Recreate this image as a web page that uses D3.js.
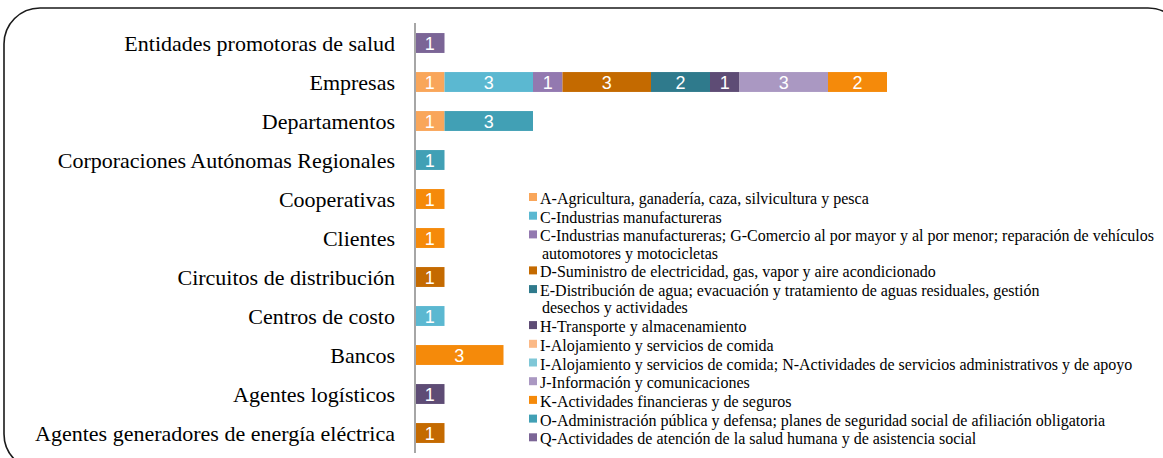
<!DOCTYPE html>
<html>
<head>
<meta charset="utf-8">
<script src="https://cdn.jsdelivr.net/npm/d3@7"></script>
<style>
  body { margin: 0; background: #fff; }
  svg { display: block; }
  .serif { font-family: "Liberation Serif", "Times New Roman", "DejaVu Serif", serif; }
  .sans { font-family: "Liberation Sans", Arial, sans-serif; }
</style>
</head>
<body>
<svg id="chart" width="1163" height="458"></svg>
<script>

// categories, top to bottom
const categories = [
  "Entidades promotoras de salud",
  "Empresas",
  "Departamentos",
  "Corporaciones Autónomas Regionales",
  "Cooperativas",
  "Clientes",
  "Circuitos de distribución",
  "Centros de costo",
  "Bancos",
  "Agentes logísticos",
  "Agentes generadores de energía eléctrica"
]

const seriesNames = [
  "A-Agricultura, ganadería, caza, silvicultura y pesca",
  "C-Industrias manufactureras",
  "C-Industrias manufactureras; G-Comercio al por mayor y al por menor; reparación de vehículos|automotores y motocicletas",
  "D-Suministro de electricidad, gas, vapor y aire acondicionado",
  "E-Distribución de agua; evacuación y tratamiento de aguas residuales, gestión|desechos y actividades",
  "H-Transporte y almacenamiento",
  "I-Alojamiento y servicios de comida",
  "I-Alojamiento y servicios de comida; N-Actividades de servicios administrativos y de apoyo",
  "J-Información y comunicaciones",
  "K-Actividades financieras y de seguros",
  "O-Administración pública y defensa; planes de seguridad social de afiliación obligatoria",
  "Q-Actividades de atención de la salud humana y de asistencia social"
]

const seriesColors = [
  "#f9a65a", "#5bb8d1", "#9379b0", "#c46a00", "#2f7a8c", "#5e4c75",
  "#fbb987", "#7fc7d7", "#aa98c2", "#f58a0a", "#41a0b5", "#7b6596"
]

// values per series, one entry per category (same order as categories)
const sA  = [0, 1, 1, 0, 0, 0, 0, 0, 0, 0, 0]
const sC  = [0, 3, 0, 0, 0, 0, 0, 1, 0, 0, 0]
const sCG = [0, 1, 0, 0, 0, 0, 0, 0, 0, 0, 0]
const sD  = [0, 3, 0, 0, 0, 0, 1, 0, 0, 0, 1]
const sE  = [0, 2, 0, 0, 0, 0, 0, 0, 0, 0, 0]
const sH  = [0, 1, 0, 0, 0, 0, 0, 0, 0, 1, 0]
const sI  = [0, 0, 0, 0, 0, 0, 0, 0, 0, 0, 0]
const sIN = [0, 0, 0, 0, 0, 0, 0, 0, 0, 0, 0]
const sJ  = [0, 3, 0, 0, 0, 0, 0, 0, 0, 0, 0]
const sK  = [0, 2, 0, 0, 1, 1, 0, 0, 3, 0, 0]
const sO  = [0, 0, 3, 1, 0, 0, 0, 0, 0, 0, 0]
const sQ  = [1, 0, 0, 0, 0, 0, 0, 0, 0, 0, 0]

const seriesValues = [sA, sC, sCG, sD, sE, sH, sI, sIN, sJ, sK, sO, sQ]

const svg = d3.select("#chart")

// rounded frame
svg.append("rect")
   .attr("x", 4)
   .attr("y", 8)
   .attr("width", 1180)
   .attr("height", 462)
   .attr("rx", 36)
   .attr("ry", 36)
   .attr("fill", "none")
   .attr("stroke", "#1a1a1a")
   .attr("stroke-width", 1.6)

const x0 = 415
const xScale = d3.scaleLinear()
                 .domain([0, 16])
                 .range([x0, x0 + 16 * 29.5])

const yScale = d3.scaleBand()
                 .domain(categories)
                 .range([23.5, 452.5])
                 .paddingInner(0.49)
                 .paddingOuter(0.245)

// build table for stack
const table = categories.map((c, i) => {
  let row = { cat: c }
  seriesValues.forEach((s, k) => { row["s" + k] = s[i] })
  return row
})

const stack = d3.stack().keys(seriesValues.map((s, k) => "s" + k))
const stacked = stack(table)

const gBars = svg.append("g")

stacked.forEach((layer, k) => {
  const segs = layer.filter(d => d[1] - d[0] > 0)
  gBars.selectAll(".seg" + k)
       .data(segs)
       .enter()
       .append("rect")
       .attr("x", d => xScale(d[0]))
       .attr("y", d => yScale(d.data.cat))
       .attr("width", d => xScale(d[1]) - xScale(d[0]))
       .attr("height", yScale.bandwidth())
       .attr("fill", seriesColors[k])

  gBars.selectAll(".lab" + k)
       .data(segs)
       .enter()
       .append("text")
       .attr("class", "sans")
       .attr("x", d => (xScale(d[0]) + xScale(d[1])) / 2)
       .attr("y", d => yScale(d.data.cat) + yScale.bandwidth() / 2 + 6.5)
       .attr("text-anchor", "middle")
       .attr("font-size", 18)
       .attr("fill", "#fff")
       .text(d => d[1] - d[0])
})

// vertical axis line
svg.append("line")
   .attr("x1", x0)
   .attr("x2", x0)
   .attr("y1", 23)
   .attr("y2", 453)
   .attr("stroke", "#a6a6a6")
   .attr("stroke-width", 2)

// category labels
svg.selectAll(".catLabel")
   .data(categories)
   .enter()
   .append("text")
   .attr("class", "serif")
   .attr("x", x0 - 20)
   .attr("y", d => yScale(d) + yScale.bandwidth() / 2 + 7.5)
   .attr("text-anchor", "end")
   .attr("font-size", 22)
   .attr("fill", "#000")
   .text(d => d)

// legend
const legend = svg.append("g").attr("transform", "translate(529,0)")
let ly = 199
seriesNames.forEach((name, k) => {
  const lines = name.split("|")
  legend.append("rect")
        .attr("x", 0)
        .attr("y", ly - 6)
        .attr("width", 8)
        .attr("height", 8)
        .attr("fill", seriesColors[k])
  lines.forEach((ln, j) => {
    legend.append("text")
          .attr("class", "serif")
          .attr("x", j == 0 ? 11 : 13)
          .attr("y", ly + 5 + j * 17.3)
          .attr("font-size", 16)
          .attr("fill", "#000")
          .text(ln)
  })
  ly = ly + 18.7 + (lines.length - 1) * 17.3
})

</script>
</body>
</html>
